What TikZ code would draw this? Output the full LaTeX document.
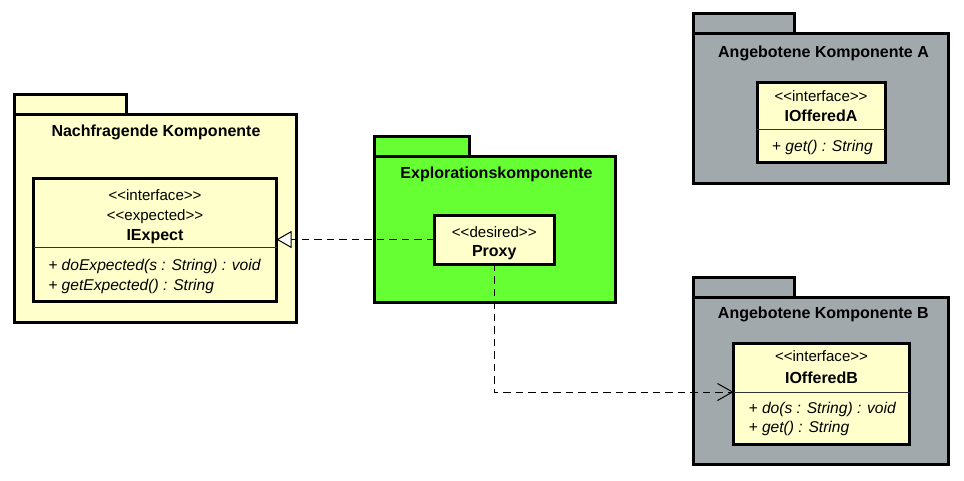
\documentclass[tikz,border=0pt]{standalone}
\usepackage{fontspec}
\setmainfont{Liberation Sans}[Ligatures=TeXOff]
\usetikzlibrary{arrows.meta,fit}
\definecolor{classyellow}{HTML}{FFFFCC}
\definecolor{pkggreen}{HTML}{66FF33}
\definecolor{pkggray}{HTML}{A2A9AD}

\begin{document}
\begin{tikzpicture}[x=0.75pt,y=-0.75pt,
  frame/.style={draw=black, line width=2.25pt, inner sep=0pt, outer sep=0pt, line join=miter},
  pkg/.style={frame, fill=#1},
  classbox/.style={frame, fill=classyellow},
  pkgtitle/.style={anchor=base, inner sep=0pt, font=\fontsize{12pt}{14pt}\selectfont\bfseries},
  stereo/.style={anchor=base, inner sep=0pt, font=\fontsize{11.3pt}{13pt}\selectfont},
  cname/.style={anchor=base, inner sep=0pt, font=\fontsize{12pt}{14pt}\selectfont\bfseries},
  op/.style={anchor=base west, inner sep=0pt, font=\fontsize{11.7pt}{14pt}\selectfont\itshape},
  sepline/.style={draw=black!80, line width=0.75pt},
  connector/.style={draw=black, line width=0.75pt, dash pattern=on 5.6pt off 3.75pt},
  realize/.style={connector, -{Triangle[fill=white, length=11.25pt, width=12.75pt]}},
  depend/.style={connector, -{Straight Barb[length=11.25pt, width=12.75pt]}},
]
\useasboundingbox (0,0) rectangle (964,480);

% ---------- Nachfragende Komponente ----------
\node[pkg=classyellow, fit={(14.5,94.5) (126,114)}] (nktab) {};
\node[pkg=classyellow, fit={(14.5,114) (296,322)}] (nkbody) {};
\node[pkgtitle] (nktitle) at (156,136) {Nachfragende Komponente};

\node[classbox, fit={(33.5,178) (276.5,301.5)}] (iexpect) {};
\coordinate (iexpectsep) at (0,247);
\draw[sepline] (iexpect.west |- iexpectsep) -- (iexpect.east |- iexpectsep);
\node[stereo] (iexpectst1) at (155,200) {<<interface>>};
\node[stereo] (iexpectst2) at (155,220) {<<expected>>};
\node[cname]  (iexpectname) at (155,240) {IExpect};
\node[op] (iexpectop1) at (48,270) {+ doExpected(s : String) : void};
\node[op] (iexpectop2) at (48,290) {+ getExpected() : String};

% ---------- Explorationskomponente ----------
\node[pkg=pkggreen, fit={(374.5,136.5) (469,156)}] (extab) {};
\node[pkg=pkggreen, fit={(374.5,156) (615.5,302)}] (exbody) {};
\node[pkgtitle] (extitle) at (496.5,178.3) {Explorationskomponente};

\node[classbox, fit={(434,215) (554.5,264)}] (proxy) {};
\node[stereo] (proxyst) at (494.25,237.3) {<<desired>>};
\node[cname]  (proxyname) at (494.25,256.7) {Proxy};

% ---------- Angebotene Komponente A ----------
\node[pkg=pkggray, fit={(693.5,13.5) (794,33.5)}] (katab) {};
\node[pkg=pkggray, fit={(693.5,33.5) (948,183)}] (kabody) {};
\node[pkgtitle] (katitle) at (823.5,57.3) {Angebotene Komponente A};

\node[classbox, fit={(757,82) (885,162)}] (ioa) {};
\coordinate (ioasep) at (0,129.5);
\draw[sepline] (ioa.west |- ioasep) -- (ioa.east |- ioasep);
\node[stereo] (ioast) at (821,101.7) {<<interface>>};
\node[cname]  (ioaname) at (821,121.7) {IOfferedA};
\node[op] (ioaop1) at (771.7,151.7) {+ get() : String};

% ---------- Angebotene Komponente B ----------
\node[pkg=pkggray, fit={(693.5,277.5) (794,297)}] (kbtab) {};
\node[pkg=pkggray, fit={(693.5,297) (948,464.5)}] (kbbody) {};
\node[pkgtitle] (kbtitle) at (823.3,318.3) {Angebotene Komponente B};

\node[classbox, fit={(733.5,343) (909.5,444)}] (iob) {};
\coordinate (iobsep) at (0,392);
\draw[sepline] (iob.west |- iobsep) -- (iob.east |- iobsep);
\node[stereo] (iobst) at (821.5,361) {<<interface>>};
\node[cname]  (iobname) at (821.5,383.3) {IOfferedB};
\node[op] (iobop1) at (748.3,413.3) {+ do(s : String) : void};
\node[op] (iobop2) at (748.3,432.7) {+ get() : String};

% ---------- relations ----------
\draw[realize] (proxy.west) -- (proxy.west -| iexpect.east);
\draw[depend] (proxy.south) |- (iob.west |- iobsep);

\end{tikzpicture}
\end{document}
